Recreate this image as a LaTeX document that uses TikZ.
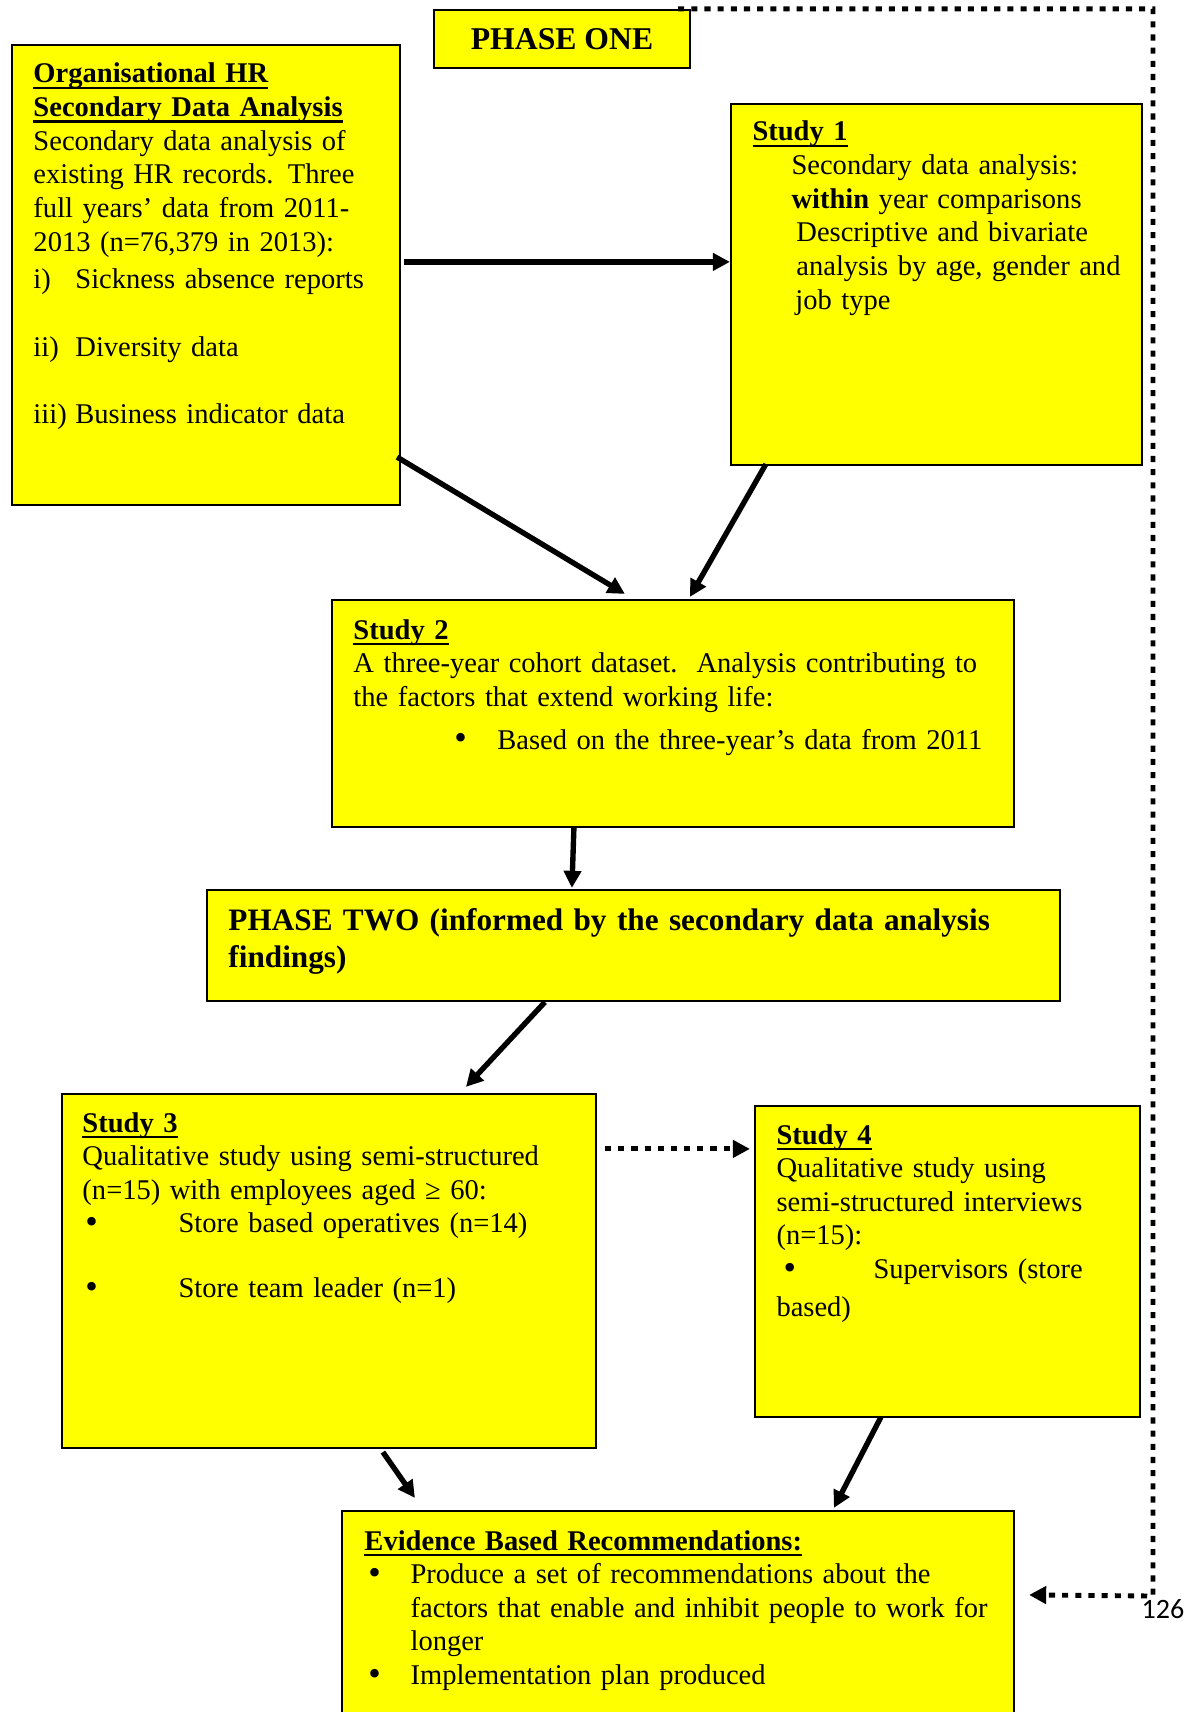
\documentclass[tikz,border=0pt]{standalone}
\usepackage{fontspec}
\setmainfont{Liberation Serif}
\newfontfamily\numfont{Carlito}
\usetikzlibrary{arrows.meta,fit}
\definecolor{boxyellow}{RGB}{255,255,0}
% heavy underline set just below the baseline
\newcommand\hul[1]{\setbox0\hbox{#1}\rlap{\rule[-2.4pt]{\wd0}{0.9pt}}\box0}
% round list bullet
\newcommand\bul{\raisebox{-0.3pt}{\scalebox{1.25}{•}}}
\begin{document}
\begin{tikzpicture}[x=0.41pt,y=-0.41pt,
  box/.style={draw=black,line width=0.9pt,fill=boxyellow,inner sep=0pt},
  body/.style={inner sep=0pt,anchor=base west,align=left,text width=320pt,
    font=\fontsize{11.7}{13.8}\selectfont},
  headline/.style={inner sep=0pt,anchor=base west,align=left,text width=360pt,
    font=\fontsize{12.8}{15.2}\selectfont\bfseries},
  arr/.style={line width=2.2pt,-{Triangle[length=7pt,width=7pt]}},
  darr/.style={line width=2pt,dash pattern=on 2.5pt off 2.9pt,
    -{Triangle[length=7pt,width=7pt]}},
  pagenum/.style={inner sep=0pt,font=\numfont\fontsize{11.5}{13}\selectfont}]

% page
\fill[white] (0,0) rectangle (1191,1712);
\useasboundingbox (0,0) rectangle (1191,1712);

% feedback route from phase one down to the recommendations
\coordinate (fbcorner) at (1153,1596);

% boxes
\node[box,fit={(434,10)(690,68)}] (p1) {};
\node[box,fit={(12,45)(400,505)}] (hr) {};
\node[box,fit={(731,104)(1142,465)}] (s1) {};
\node[box,fit={(332,600)(1014,827)}] (s2) {};
\node[box,fit={(207,890)(1060,1001)}] (p2) {};
\node[box,fit={(62,1094)(596,1448)}] (s3) {};
\node[box,fit={(755,1106)(1140,1417)}] (s4) {};
\node[box,fit={(342,1511)(1014,1722)}] (ev) {};

% box texts
\node[inner sep=0pt,font=\fontsize{13}{15}\selectfont\bfseries] (p1text) at (p1.center) {PHASE ONE};

\node[body] (hrtext) at (33,83) {%
\textbf{\hul{Organisational HR}}\\
\textbf{\hul{Secondary Data Analysis}}\\
Secondary data analysis of\\
existing HR records. Three\\
full years’ data from 2011-\\
2013 (n=76,379 in 2013):\\[1.4pt]
\makebox[17.2pt][l]{i)}Sickness absence reports\\[14pt]
\makebox[17.2pt][l]{ii)}Diversity data\\[14pt]
\makebox[17.2pt][l]{iii)}Business indicator data};

\node[body] (s1text) at (752,141) {%
\textbf{\hul{Study 1}}\\
\hspace*{16pt}Secondary data analysis:\\
\hspace*{16pt}\textbf{within} year comparisons\\
\hspace*{18pt}Descriptive and bivariate\\
\hspace*{18pt}analysis by age, gender and\\
\hspace*{17.6pt}job type};

\node[body] (s2text) at (353,639) {%
\textbf{\hul{Study 2}}\\
A three-year cohort dataset.\ \ Analysis contributing to\\
the factors that extend working life:\\[3.8pt]
\hspace*{41.4pt}\makebox[17.6pt][l]{\bul}Based on the three-year’s data from 2011};

\node[headline] (p2text) at (228,930) {%
PHASE TWO (informed by the secondary data analysis\\
findings)};

\node[body] (s3text) at (82,1132) {%
\textbf{\hul{Study 3}}\\
Qualitative study using semi-structured\\
(n=15) with employees aged ≥ 60:\\
\makebox[39.4pt][l]{\hspace*{1.2pt}\bul}Store based operatives (n=14)\\[12.7pt]
\makebox[39.4pt][l]{\hspace*{1.2pt}\bul}Store team leader (n=1)};

\node[body] (s4text) at (776,1144) {%
\textbf{\hul{Study 4}}\\
Qualitative study using\\
semi-structured interviews\\
(n=15):\\
\makebox[39.8pt][l]{\hspace*{2.9pt}\bul}Supervisors (store\\[1.8pt]
based)};

\node[body] (evtext) at (364,1550) {%
\textbf{\hul{Evidence Based Recommendations:}}\\
\makebox[18.9pt][l]{\hspace*{1.6pt}\bul}Produce a set of recommendations about the\\
\hspace*{18.9pt}factors that enable and inhibit people to work for\\
\hspace*{18.9pt}longer\\
\makebox[18.9pt][l]{\hspace*{1.6pt}\bul}Implementation plan produced};

\node[pagenum] (pg) at (1163,1609) {126};

% connectors
\draw[arr] ([shift={(3,218)}]hr.north east) -- ([shift={(0,159)}]s1.north west);
\draw[arr] ([shift={(-4,-49)}]hr.south east) -- ([shift={(294,-5)}]s2.north west);
\draw[arr] ([shift={(36,-2)}]s1.south west) -- ([shift={(359,-2)}]s2.north west);
\draw[arr] ([shift={(243,0)}]s2.south west) -- ([shift={(366,-1)}]p2.north west);
\draw[arr] ([shift={(339,0)}]p2.south west) -- ([shift={(405,-6)}]s3.north west);
\draw[darr] ([shift={(8,56)}]s3.north east) -- ([shift={(-4,44)}]s4.north west);
\draw[arr] ([shift={(322,3)}]s3.south west) -- ([shift={(74,-12)}]ev.north west);
\draw[arr] ([shift={(127,-1)}]s4.south west) -- ([shift={(493,-2)}]ev.north west);
\draw[darr] ([shift={(-13,0)}]p1.north east) -| (fbcorner) -- ([shift={(14,85)}]ev.north east);
\end{tikzpicture}
\end{document}
